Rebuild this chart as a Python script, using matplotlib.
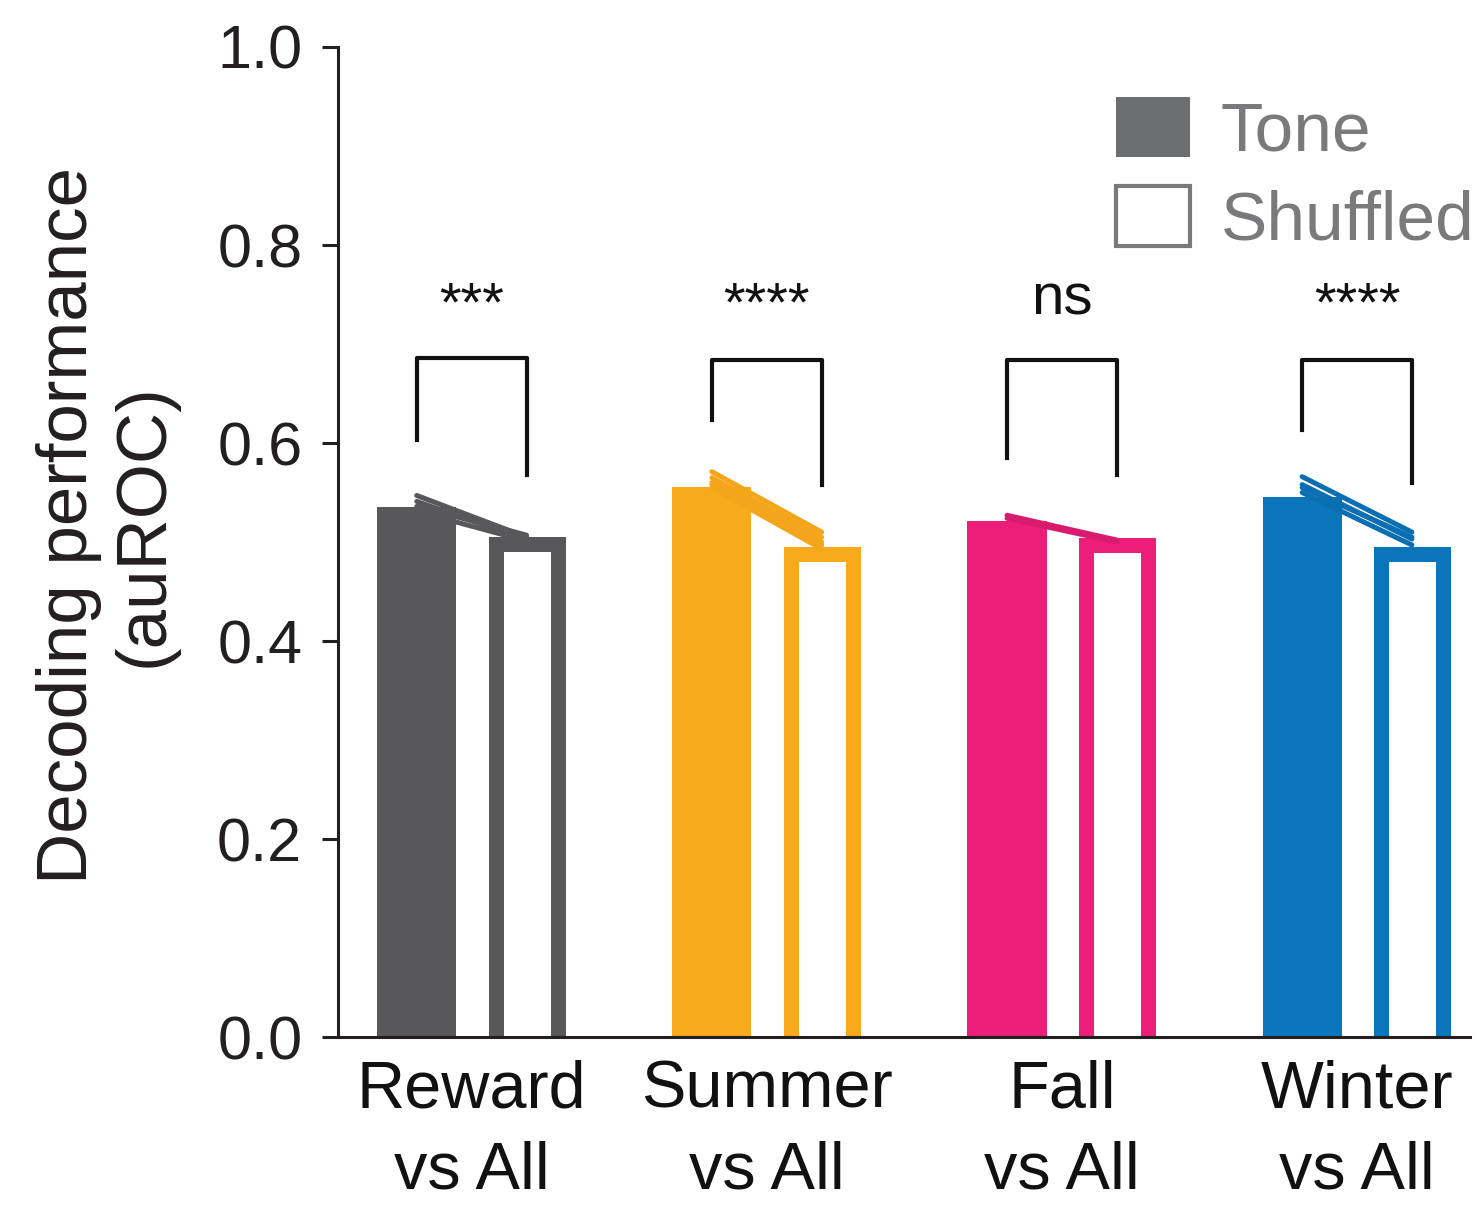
import matplotlib
matplotlib.use("Agg")
import matplotlib.pyplot as plt
from matplotlib.patches import Patch
import numpy as np

plt.rcParams['font.family'] = ['Liberation Sans', 'DejaVu Sans']

# data
groups = ['Reward\nvs All', 'Summer\nvs All', 'Fall\nvs All', 'Winter\nvs All']
colors = ['#58585a', '#f9a91c', '#ec1e79', '#0b75bb']
line_colors = ['#58585a', '#f4a51a', '#d91b70', '#0a6fb2']
tone_mean = [0.535, 0.556, 0.521, 0.545]
shuf_mean = [0.498, 0.488, 0.497, 0.488]

# paired session values (tone, shuffled)
pairs = [
    [(0.547, 0.505), (0.541, 0.502), (0.536, 0.507), (0.531, 0.501)],
    [(0.571, 0.510), (0.565, 0.505), (0.560, 0.500), (0.558, 0.497), (0.555, 0.493)],
    [(0.527, 0.502), (0.524, 0.500)],
    [(0.566, 0.510), (0.558, 0.503), (0.555, 0.505), (0.550, 0.497)],
]

brk_left = [0.603, 0.623, 0.585, 0.613]
brk_right = [0.568, 0.558, 0.568, 0.560]
brk_top = [0.686, 0.684, 0.684, 0.684]
stars = ['***', '****', 'ns', '****']

fig = plt.figure(figsize=(14.81, 12.05), dpi=100)
ax = fig.add_axes([0.228, 0.1394, 0.7646, 0.8216])

x = np.arange(len(groups))
off = 0.186
tone_x = x - off
shuf_x = x + off
sink = 0.03  # push outline bottoms below the axis so only the sides show

for i in range(len(groups)):
    ax.bar(tone_x[i], tone_mean[i], width=0.268, color=colors[i], linewidth=0, zorder=2)
    ax.bar(shuf_x[i], shuf_mean[i] + sink, bottom=-sink, width=0.21, facecolor='white',
           edgecolor=colors[i], linewidth=10.8, zorder=2)
    for t, s in pairs[i]:
        ax.plot([tone_x[i], shuf_x[i]], [t, s], color=line_colors[i], lw=3.6,
                solid_capstyle='round', zorder=3)
    # significance bracket
    ax.plot([tone_x[i], tone_x[i], shuf_x[i], shuf_x[i]],
            [brk_left[i], brk_top[i], brk_top[i], brk_right[i]],
            color='#111111', lw=3, zorder=4)
    yy = 0.738 if stars[i] != 'ns' else 0.745
    ax.text(x[i], yy, stars[i], ha='center', va='center',
            fontsize=40 if stars[i] != 'ns' else 42, color='#111111')

ax.set_xlim(-0.454, 3.383)
ax.set_ylim(0, 1.0)
ax.set_yticks([0.0, 0.2, 0.4, 0.6, 0.8, 1.0])
ax.set_yticklabels(['0.0', '0.2', '0.4', '0.6', '0.8', '1.0'])
ax.set_xticks(x)
ax.set_xticklabels(groups, linespacing=1.4)
ax.tick_params(axis='y', direction='out', length=11.5, width=2.2, pad=14,
               labelsize=44, colors='#231f20')
ax.tick_params(axis='x', length=0, pad=16, labelsize=48, colors='#111111')

for side in ['top', 'right']:
    ax.spines[side].set_visible(False)
ax.spines['left'].set_linewidth(2.2)
ax.spines['bottom'].set_linewidth(2.2)
ax.spines['left'].set_color('#231f20')
ax.spines['bottom'].set_color('#231f20')

fig.text(107 / 1481, 1 - 525 / 1205, 'Decoding performance\n(auROC)', rotation=90,
         ha='center', va='center', fontsize=51, linespacing=1.2, color='#231f20')

handles = [Patch(facecolor='#6d6e70', edgecolor='#6d6e70', linewidth=0),
           Patch(facecolor='white', edgecolor='#7a7a7c', linewidth=3)]
leg = ax.legend(handles, ['Tone', 'Shuffled'], loc='upper left',
                bbox_to_anchor=(1116 / 1481, 1 - 97 / 1205), bbox_transform=fig.transFigure,
                frameon=False, fontsize=50, handlelength=1.06, handleheight=0.95,
                handletextpad=0.45, labelspacing=0.3, borderaxespad=0, borderpad=0)
for t in leg.get_texts():
    t.set_color('#7a7a7c')

fig.savefig('out.png', dpi=100)
